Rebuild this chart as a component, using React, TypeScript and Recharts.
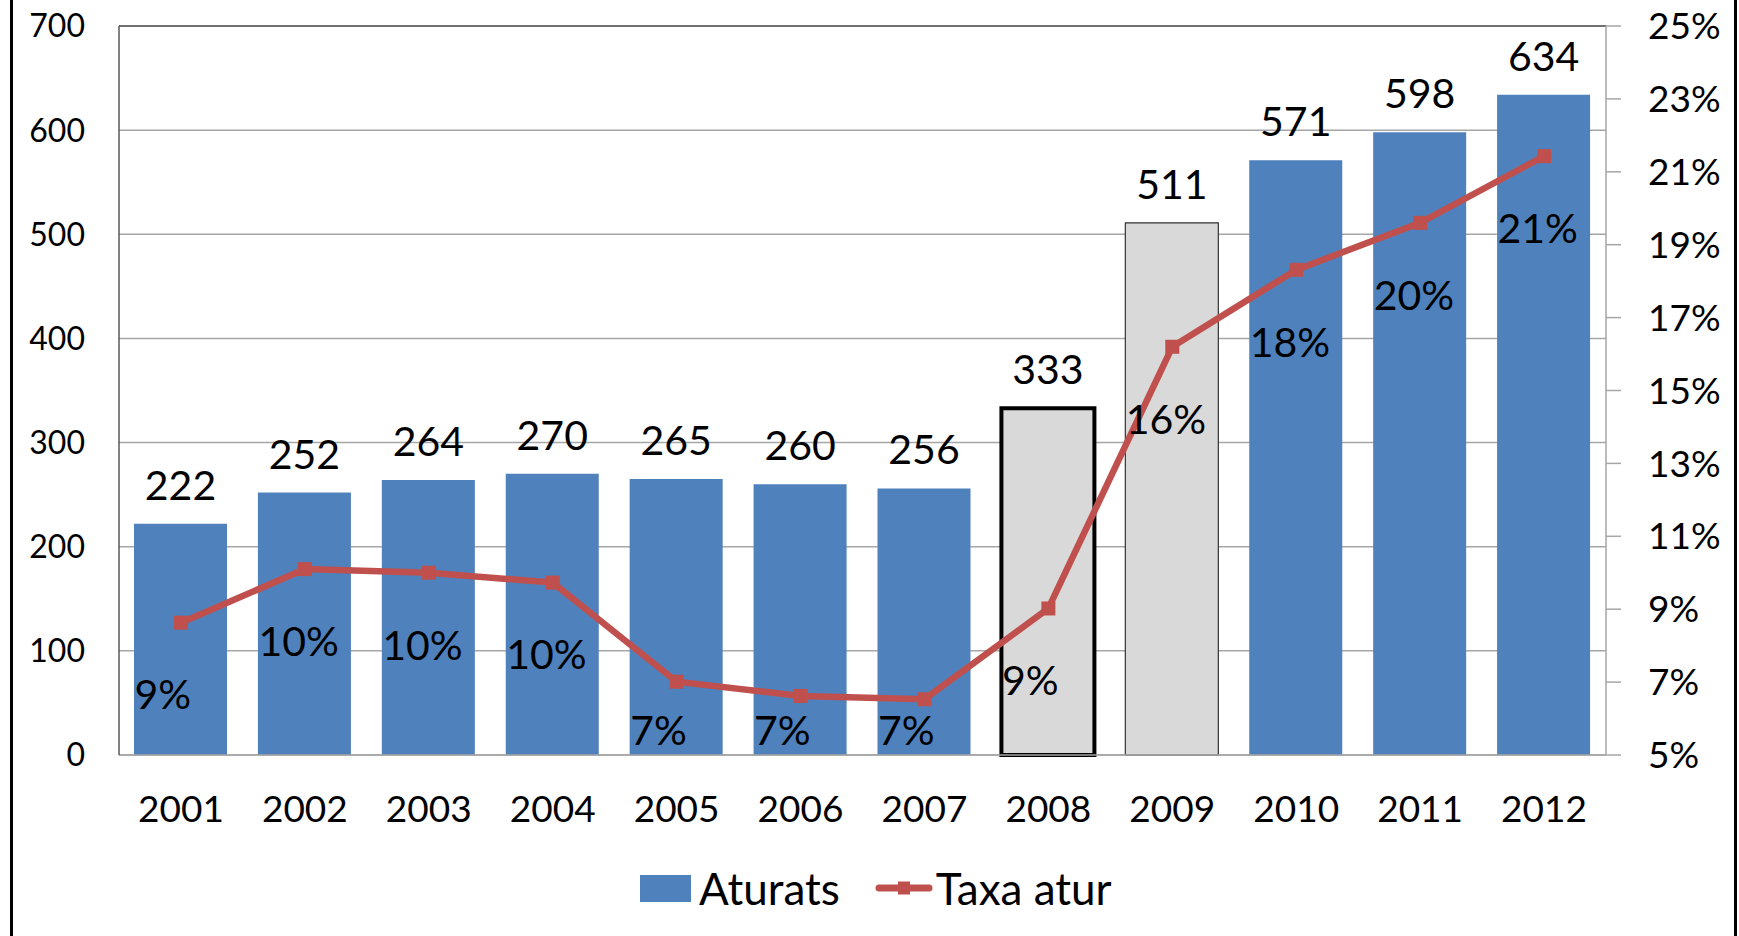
import {
  ComposedChart,
  Bar,
  Line,
  XAxis,
  YAxis,
  CartesianGrid,
  LabelList,
  Legend,
  Cell,
  ReferenceLine,
} from "recharts";

const years = ["2001", "2002", "2003", "2004", "2005", "2006", "2007", "2008", "2009", "2010", "2011", "2012"];
const aturats = [222, 252, 264, 270, 265, 260, 256, 333, 511, 571, 598, 634];
const taxaAtur = [8.63, 10.1, 10.0, 9.73, 7.01, 6.62, 6.53, 9.02, 16.2, 18.31, 19.6, 21.43];
const leftTicks = [0, 100, 200, 300, 400, 500, 600, 700];
const rightTicks = [5, 7, 9, 11, 13, 15, 17, 19, 21, 23, 25];

const data = years.map((year, i) => ({ year, aturats: aturats[i], taxa: taxaAtur[i] }));

const FONT = "Lato, 'Open Sans', sans-serif";
const BLUE = "#4F81BD";
const RED = "#C0504D";
const GRID = "#A6A6A6";
const BORDER = "#595959";
const BAR_SIZE = 93;
const PLOT_BOTTOM = 755;

function barStyle(year: string) {
  if (year === "2008") return { fill: "#D9D9D9", stroke: "#000", strokeWidth: 4 };
  if (year === "2009") return { fill: "#D9D9D9", stroke: "#333", strokeWidth: 1.2 };
  return { fill: BLUE, stroke: "none", strokeWidth: 0 };
}

function SquareDot(props: any) {
  const { cx, cy, index } = props;
  if (cx == null || cy == null) return null;
  return <rect key={"dot-" + index} x={cx - 7} y={cy - 7} width={14} height={14} fill={RED} />;
}

// percentage labels sit below each point, kept above the category axis
function TaxaLabel(props: any) {
  const { x, y, value, index } = props;
  const ty = Math.min(y + 72, PLOT_BOTTOM - 25);
  return (
    <text
      key={"lbl-" + index}
      x={x - BAR_SIZE / 2}
      y={ty}
      dy="0.36em"
      textAnchor="start"
      fontSize={41}
      fontFamily={FONT}
      fill="#000"
    >
      {Math.round(value) + "%"}
    </text>
  );
}

function renderLegend() {
  return (
    <div
      style={{
        display: "flex",
        alignItems: "center",
        fontFamily: FONT,
        fontSize: 44,
        lineHeight: 1,
        color: "#000",
      }}
    >
      <svg width={51} height={27}>
        <rect width={51} height={27} fill={BLUE} />
      </svg>
      <span style={{ marginLeft: 8 }}>Aturats</span>
      <svg width={58} height={16} style={{ marginLeft: 35 }}>
        <line x1={4} y1={8} x2={54} y2={8} stroke={RED} strokeWidth={7} strokeLinecap="round" />
        <rect x={23} y={1.5} width={12} height={13} fill={RED} />
      </svg>
      <span style={{ marginLeft: 3 }}>Taxa atur</span>
    </div>
  );
}

export default function App() {
  return (
    <div
      style={{
        position: "absolute",
        left: 0,
        top: 0,
        width: 1739,
        height: 936,
        background: "#fff",
        fontFamily: FONT,
      }}
    >
      <div style={{ position: "absolute", left: 10, top: 0, width: 3, height: 936, background: "#000" }} />
      <div style={{ position: "absolute", left: 1734, top: 0, width: 3, height: 936, background: "#000" }} />
      <ComposedChart
        width={1739}
        height={936}
        data={data}
        margin={{ top: 26, right: 0, bottom: 0, left: 0 }}
        style={{ fontFamily: FONT }}
      >
        <CartesianGrid yAxisId="left" vertical={false} stroke={GRID} strokeWidth={1.5} />
        <XAxis
          dataKey="year"
          height={181}
          tickLine={false}
          tickSize={0}
          tickMargin={41}
          axisLine={{ stroke: GRID, strokeWidth: 1.5 }}
          tick={{ fontSize: 37, fill: "#000", fontFamily: FONT }}
          interval={0}
        />
        <YAxis
          yAxisId="left"
          domain={[0, 700]}
          ticks={leftTicks}
          width={119}
          tickLine={false}
          tickSize={0}
          tickMargin={34}
          axisLine={{ stroke: BORDER, strokeWidth: 1.5 }}
          tick={{ fontSize: 32, fill: "#000", fontFamily: FONT }}
        />
        <YAxis
          yAxisId="right"
          orientation="right"
          domain={[5, 25]}
          ticks={rightTicks}
          width={133}
          tickSize={15}
          tickMargin={27}
          tickLine={{ stroke: GRID, strokeWidth: 1.5 }}
          axisLine={{ stroke: GRID, strokeWidth: 1.5 }}
          tick={{ fontSize: 37, fill: "#000", fontFamily: FONT }}
          tickFormatter={(v: number) => v + "%"}
        />
        <ReferenceLine yAxisId="left" y={700} stroke={BORDER} strokeWidth={1.5} />
        <Bar yAxisId="left" dataKey="aturats" barSize={BAR_SIZE} fill={BLUE} isAnimationActive={false}>
          {data.map((d) => {
            const s = barStyle(d.year);
            return <Cell key={d.year} fill={s.fill} stroke={s.stroke} strokeWidth={s.strokeWidth} />;
          })}
          <LabelList
            dataKey="aturats"
            position="top"
            offset={24}
            style={{ fontSize: 41, fill: "#000", fontFamily: FONT }}
          />
        </Bar>
        <Line
          yAxisId="right"
          type="linear"
          dataKey="taxa"
          stroke={RED}
          strokeWidth={6.5}
          dot={SquareDot}
          activeDot={false}
          isAnimationActive={false}
        >
          <LabelList dataKey="taxa" content={TaxaLabel} />
        </Line>
        <Legend
          layout="horizontal"
          verticalAlign="middle"
          align="center"
          content={renderLegend}
          wrapperStyle={{ top: 866, left: 640, width: 1000 }}
        />
      </ComposedChart>
    </div>
  );
}
